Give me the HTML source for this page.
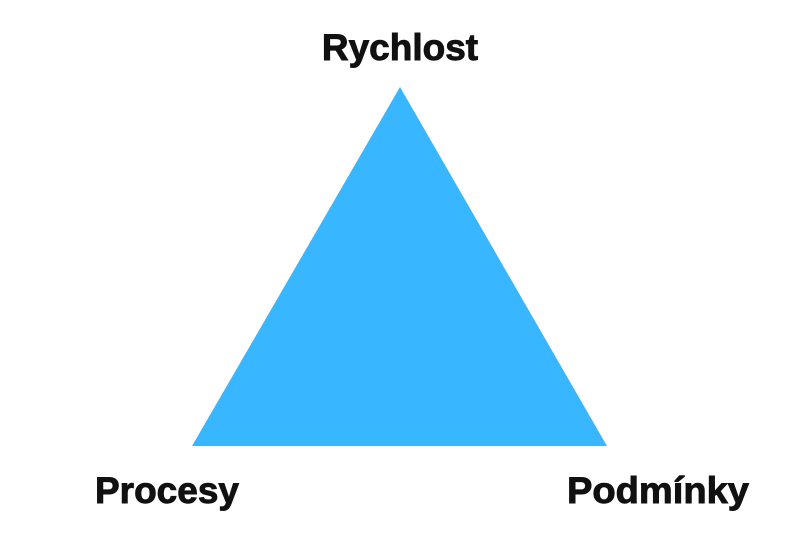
<!DOCTYPE html>
<html><head><meta charset="utf-8"><style>
html,body{margin:0;padding:0;background:#fff;width:800px;height:534px;overflow:hidden}
</style></head><body>
<svg width="800" height="534" viewBox="0 0 800 534" xmlns="http://www.w3.org/2000/svg">
<rect width="800" height="534" fill="#fff"/>
<polygon points="400,87 192,446 607,446" fill="#38B6FF"/>
<g font-family="Liberation Sans, Arial, sans-serif" font-weight="bold" font-size="37" fill="#111" stroke="#111" stroke-width="0.9">
<text x="400" y="60" text-anchor="middle">Rychlost</text>
<text x="95" y="503">Procesy</text>
<text x="567" y="503" textLength="182" lengthAdjust="spacingAndGlyphs">Podmínky</text>
</g>
</svg>
</body></html>
